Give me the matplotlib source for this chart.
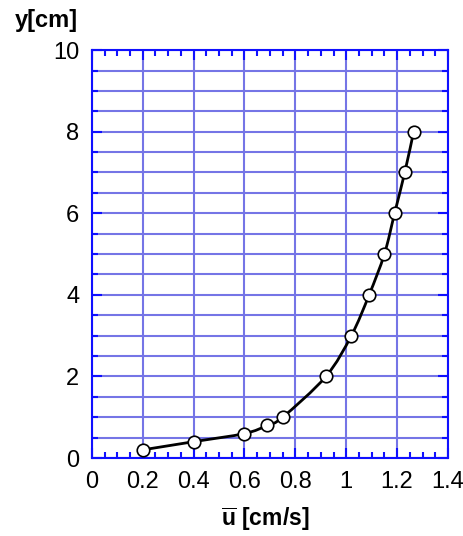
import numpy as np
import matplotlib
matplotlib.use("Agg")
import matplotlib.pyplot as plt
from matplotlib.path import Path
from matplotlib.patches import PathPatch
from matplotlib.ticker import MultipleLocator

plt.rcParams['font.family'] = ['Liberation Sans', 'DejaVu Sans']
plt.rcParams['mathtext.fontset'] = 'custom'
plt.rcParams['mathtext.bf'] = 'Liberation Sans:bold'
plt.rcParams['mathtext.rm'] = 'Liberation Sans'

u_vals = [0.20, 0.40, 0.60, 0.69, 0.75, 0.92, 1.02, 1.09, 1.15, 1.19, 1.23, 1.265]
y_vals = [0.2, 0.4, 0.6, 0.8, 1.0, 2.0, 3.0, 4.0, 5.0, 6.0, 7.0, 8.0]
x_ticks = [0, 0.2, 0.4, 0.6, 0.8, 1.0, 1.2, 1.4]
x_tick_labels = ['0', '0.2', '0.4', '0.6', '0.8', '1', '1.2', '1.4']
y_ticks = [0, 2, 4, 6, 8, 10]

fig = plt.figure(figsize=(4.64, 5.36), dpi=100)
ax = fig.add_axes([0.198, 0.1455, 0.7675, 0.761])

blue = '#1010ff'
grid_c = '#7575e6'

ax.set_xlim(0, 1.4)
ax.set_ylim(0, 10)
ax.set_xticks(x_ticks)
ax.set_xticklabels(x_tick_labels)
ax.set_yticks(y_ticks)
ax.xaxis.set_minor_locator(MultipleLocator(0.05))
ax.yaxis.set_minor_locator(MultipleLocator(0.5))

for s in ax.spines.values():
    s.set_color(blue)
    s.set_linewidth(1.5)

ax.tick_params(which='both', direction='in', top=True, right=True, color=blue, width=1.5)
ax.tick_params(which='major', length=7, labelsize=17, pad=9)
ax.tick_params(which='minor', length=4.5)

ax.grid(True, axis='x', which='major', color=grid_c, linewidth=1.5)
ax.grid(True, axis='y', which='both', color=grid_c, linewidth=1.5)
ax.set_axisbelow(True)

# smooth curve through the points (Catmull-Rom as cubic Bezier)
x = np.array(u_vals); y = np.array(y_vals)
verts = [(x[0], y[0])]
codes = [Path.MOVETO]
n = len(x)
for i in range(n - 1):
    p0 = np.array([x[max(i - 1, 0)], y[max(i - 1, 0)]])
    p1 = np.array([x[i], y[i]])
    p2 = np.array([x[i + 1], y[i + 1]])
    p3 = np.array([x[min(i + 2, n - 1)], y[min(i + 2, n - 1)]])
    c1 = p1 + (p2 - p0) / 6.0
    c2 = p2 - (p3 - p1) / 6.0
    verts += [tuple(c1), tuple(c2), tuple(p2)]
    codes += [Path.CURVE4] * 3
ax.add_patch(PathPatch(Path(verts, codes), facecolor='none', edgecolor='black', lw=2.0, zorder=3))

ax.plot(u_vals, y_vals, linestyle='none', marker='o', markersize=9,
        markerfacecolor='white', markeredgecolor='black', markeredgewidth=1.2, zorder=4)

fig.text(0.032, 0.962, 'y[cm]', fontsize=17, fontweight='bold', ha='left', va='center')
fig.text(0.571, 0.032, r'$\mathbf{\overline{u}}$ [cm/s]', fontsize=16.5, fontweight='bold',
         ha='center', va='center')

fig.savefig('out.png', dpi=100)
